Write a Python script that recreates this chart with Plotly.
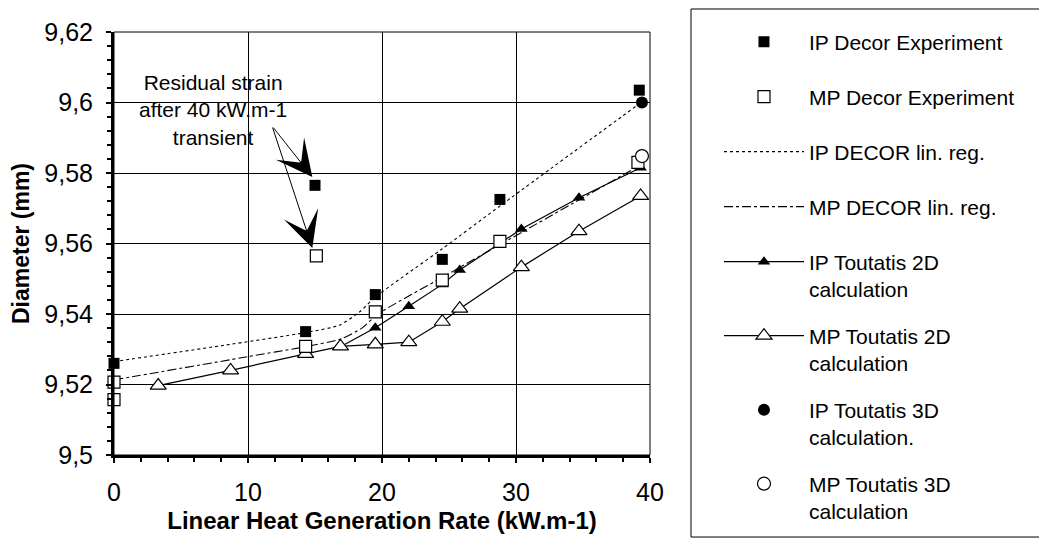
import plotly.graph_objects as go

# ---------------- data ----------------
x_ip_exp = [0, 14.3, 15.0, 19.5, 24.5, 28.8, 39.2]
y_ip_exp = [9.526, 9.535, 9.5765, 9.5455, 9.5555, 9.5725, 9.6035]

x_mp_exp = [0, 0, 14.3, 15.1, 19.5, 24.5, 28.8, 39.1]
y_mp_exp = [9.5207, 9.5157, 9.5308, 9.5565, 9.5406, 9.5496, 9.5606, 9.5830]

x_ip_reg = [0, 8, 14.4, 16.8, 18.3, 19.5, 24.5, 29, 39.4]
y_ip_reg = [9.5265, 9.5310, 9.5348, 9.5368, 9.5405, 9.5448, 9.5585, 9.5712, 9.6002]

x_mp_reg = [0, 10, 14.4, 17, 18.5, 19.7, 24.5, 29, 39.4]
y_mp_reg = [9.5213, 9.5279, 9.5308, 9.5330, 9.5360, 9.5400, 9.5504, 9.5601, 9.5825]

x_ip_2d = [16.9, 19.5, 22.0, 24.5, 25.8, 30.4, 34.7, 39.3]
y_ip_2d = [9.5307, 9.5361, 9.5422, 9.5484, 9.5525, 9.5641, 9.5730, 9.5815]

x_mp_2d = [3.3, 8.7, 14.3, 16.9, 19.5, 22.0, 24.5, 25.8, 30.4, 34.7, 39.3]
y_mp_2d = [9.5197, 9.5240, 9.5287, 9.5308, 9.5314, 9.5320, 9.5378, 9.5415, 9.5533, 9.5635, 9.5735]

x_ip_3d = [39.4]
y_ip_3d = [9.600]
x_mp_3d = [39.4]
y_mp_3d = [9.5848]

y_tickvals = [9.5, 9.52, 9.54, 9.56, 9.58, 9.6, 9.62]
y_ticktext = ["9,5", "9,52", "9,54", "9,56", "9,58", "9,6", "9,62"]
x_tickvals = [0, 10, 20, 30, 40]

names = ["IP Decor Experiment", "MP Decor Experiment", "IP DECOR lin. reg.",
         "MP DECOR lin. reg.", "IP Toutatis 2D<br>calculation",
         "MP Toutatis 2D<br>calculation", "IP Toutatis 3D<br>calculation.",
         "MP Toutatis 3D<br>calculation"]

FONT = "Arial, 'Liberation Sans', sans-serif"

fig = go.Figure()

# regression lines (drawn first, behind markers)
fig.add_trace(go.Scatter(x=x_ip_reg, y=y_ip_reg, mode="lines", name=names[2],
                         line=dict(color="black", width=1.1, dash="dot", shape="spline", smoothing=0.6),
                         legendgroup="g3", legendrank=3, legend="legend"))
fig.add_trace(go.Scatter(x=x_mp_reg, y=y_mp_reg, mode="lines", name=names[3],
                         line=dict(color="black", width=1.1, dash="dashdot", shape="spline", smoothing=0.6),
                         legendgroup="g4", legendrank=4, legend="legend"))
# 2D calculations
fig.add_trace(go.Scatter(x=x_ip_2d, y=y_ip_2d, mode="lines+markers", name=names[4],
                         line=dict(color="black", width=1.2),
                         marker=dict(symbol="triangle-up", size=11, color="black"),
                         legendgroup="g5", legendrank=5, legend="legend2"))
fig.add_trace(go.Scatter(x=x_mp_2d, y=y_mp_2d, mode="lines+markers", name=names[5],
                         line=dict(color="black", width=1.2),
                         marker=dict(symbol="triangle-up", size=14, color="white",
                                     line=dict(color="black", width=1.2)),
                         legendgroup="g6", legendrank=6, legend="legend2"))
# experiments
fig.add_trace(go.Scatter(x=x_ip_exp, y=y_ip_exp, mode="markers", name=names[0],
                         marker=dict(symbol="square", size=11, color="black"),
                         legendgroup="g1", legendrank=1, legend="legend"))
fig.add_trace(go.Scatter(x=x_mp_exp, y=y_mp_exp, mode="markers", name=names[1],
                         marker=dict(symbol="square", size=12, color="white",
                                     line=dict(color="black", width=1.2)),
                         legendgroup="g2", legendrank=2, legend="legend"))
# 3D calculations
fig.add_trace(go.Scatter(x=x_ip_3d, y=y_ip_3d, mode="markers", name=names[6],
                         marker=dict(symbol="circle", size=12, color="black"),
                         legendgroup="g7", legendrank=7, legend="legend2"))
fig.add_trace(go.Scatter(x=x_mp_3d, y=y_mp_3d, mode="markers", name=names[7],
                         marker=dict(symbol="circle", size=13, color="white",
                                     line=dict(color="black", width=1.2)),
                         legendgroup="g8", legendrank=8, legend="legend2"))

fig.update_traces(cliponaxis=False)

# annotation text + arrows
fig.add_annotation(x=7.4, y=9.5979, xref="x", yref="y",
                   text="Residual strain<br>after 40 kW.m-1<br>transient",
                   showarrow=False, font=dict(family=FONT, size=21, color="black"))
for tip_x, tip_y in [(14.8, 9.5789), (14.8, 9.5587)]:
    fig.add_annotation(x=tip_x, y=tip_y, ax=11.8, ay=9.5933, xref="x", yref="y",
                       axref="x", ayref="y", text="", showarrow=True,
                       arrowhead=3, arrowsize=6, arrowwidth=1, arrowcolor="black")

# thin frame on top/right of plot area
fig.add_shape(type="rect", xref="x domain", yref="y domain", x0=0, x1=1, y0=0, y1=1,
              line=dict(color="black", width=1), layer="above")
# legend box
fig.add_shape(type="rect", xref="paper", yref="paper",
              x0=1.0765, x1=1.7313, y0=-0.1939, y1=1.0544,
              line=dict(color="black", width=1))

fig.update_xaxes(range=[0, 40], tickvals=x_tickvals, showgrid=True, gridcolor="black",
                 gridwidth=1, showline=True, linecolor="black", linewidth=3,
                 ticks="outside", ticklen=5, tickwidth=2, tickcolor="black",
                 minor=dict(dtick=2, ticks="outside", ticklen=4, tickwidth=2, tickcolor="black", showgrid=False),
                 ticklabelstandoff=8, zeroline=False,
                 tickfont=dict(family=FONT, size=25, color="black"),
                 title=dict(text="<b>Linear Heat Generation Rate (kW.m-1)</b>", standoff=8,
                            font=dict(family=FONT, size=24, color="black")))
fig.update_yaxes(range=[9.5, 9.62], tickvals=y_tickvals, ticktext=y_ticktext,
                 showgrid=True, gridcolor="black", gridwidth=1, showline=True,
                 linecolor="black", linewidth=3, ticks="outside", ticklen=5, tickwidth=2,
                 tickcolor="black",
                 minor=dict(dtick=0.004, ticks="outside", ticklen=4, tickwidth=2, tickcolor="black", showgrid=False),
                 ticklabelstandoff=8, zeroline=False,
                 tickfont=dict(family=FONT, size=25, color="black"),
                 title=dict(text="<b>Diameter (mm)</b>", standoff=10,
                            font=dict(family=FONT, size=23, color="black")))

legend_common = dict(xanchor="left", yanchor="top",
                     font=dict(family=FONT, size=21, color="black"),
                     itemwidth=80, valign="top",
                     bgcolor="rgba(0,0,0,0)", borderwidth=0)

# the page body adds an 8px offset, so the figure is 8px smaller on each side
fig.update_layout(
    width=1039, height=537,
    margin=dict(l=106, r=397, t=24, b=90, autoexpand=False),
    plot_bgcolor="white", paper_bgcolor="white",
    font=dict(family=FONT, color="black"),
    legend=dict(x=1.1287, y=1.0248, tracegroupgap=24.7, **legend_common),
    legend2=dict(x=1.1287, y=0.5047, tracegroupgap=16.4, **legend_common),
    showlegend=True,
)

fig.write_html("out.html")
